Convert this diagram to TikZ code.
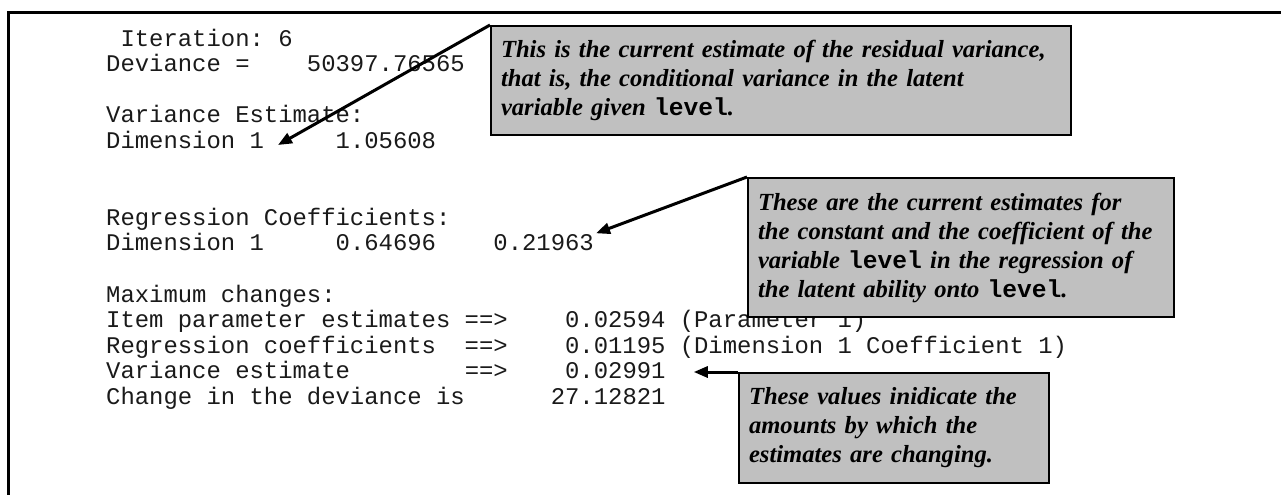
\documentclass[tikz,border=0pt]{standalone}
\usepackage{fontspec}
\setmainfont{Liberation Serif}
\setmonofont{Liberation Mono}
\usetikzlibrary{arrows.meta, positioning}

\definecolor{notegray}{HTML}{C0C0C0}
\definecolor{codeink}{HTML}{1A1A1A}
\newcommand{\varname}[1]{{\ttfamily\bfseries\upshape #1}}

\tikzset{
  code/.style={anchor=base west, inner sep=0pt, text=codeink, font=\fontsize{23.9}{24}\selectfont\ttfamily},
  note/.style={draw=black, line width=2pt, fill=notegray, anchor=north west, align=left,
    inner xsep=10pt, inner ysep=0pt, font=\fontsize{24.6}{29}\selectfont\bfseries\itshape},
  pointer/.style={line width=3pt, -{Triangle[length=14pt,width=11pt]}}
}

\begin{document}
\begin{tikzpicture}[x=1pt, y=-1pt]
  \useasboundingbox (0,0) rectangle (1281,495);

  % frame of the output window
  \draw[line width=3pt] (1281,13) -- (8,13) -- (8,495);

  % program output
  \node[code] (iter)    at (106,46)    {~Iteration:~6};
  \node[code] (dev)     at (106,71.6)  {Deviance~=~~~~50397.76565};
  \node[code] (varhead) at (106,122.8) {Variance~Estimate:};
  \node[code] (vardim)  at (106,148.4) {Dimension~1~~~~~1.05608};
  \node[code] (reghead) at (106,225.2) {Regression~Coefficients:};
  \node[code] (regdim)  at (106,250.8) {Dimension~1~~~~~0.64696~~~~0.21963};
  \node[code] (maxhead) at (106,302)   {Maximum~changes:};
  \node[code] (itemchg) at (106,327.6) {Item~parameter~estimates~==>~~~~0.02594~(Parameter~1)};
  \node[code] (regchg)  at (106,353.2) {Regression~coefficients~~==>~~~~0.01195~(Dimension~1~Coefficient~1)};
  \node[code] (varchg)  at (106,378.8) {Variance~estimate~~~~~~~~==>~~~~0.02991};
  \node[code] (devchg)  at (106,404.4) {Change~in~the~deviance~is~~~~~~27.12821};

  % callouts
  \node[note, minimum width=580pt, minimum height=109pt, text width=560pt] (noteA) at (490,25)
    {This is the current estimate of the residual variance,\\
     that is, the conditional variance in the latent\\
     variable given \varname{level}.};
  \node[note, minimum width=426pt, minimum height=139pt, text width=406pt] (noteB) at (747,177)
    {These are the current estimates for\\
     the constant and the coefficient of the\\
     variable \varname{level} in the regression of\\
     the latent ability onto \varname{level}.};
  \node[note, minimum width=310pt, minimum height=110pt, text width=290pt] (noteC) at (738,372)
    {These values inidicate the\\
     amounts by which the\\
     estimates are changing.};

  % pointers
  \coordinate (tipA) at (278,145);
  \coordinate (tipB) at ([xshift=2pt]regdim.north east);
  \coordinate (tipC) at ([xshift=28pt]varchg.east);
  \draw[pointer] (noteA.north west) -- (tipA);
  \draw[pointer] (noteB.north west) -- (tipB);
  \draw[pointer] (noteC.north west) -- (tipC |- noteC.north west);
\end{tikzpicture}
\end{document}
